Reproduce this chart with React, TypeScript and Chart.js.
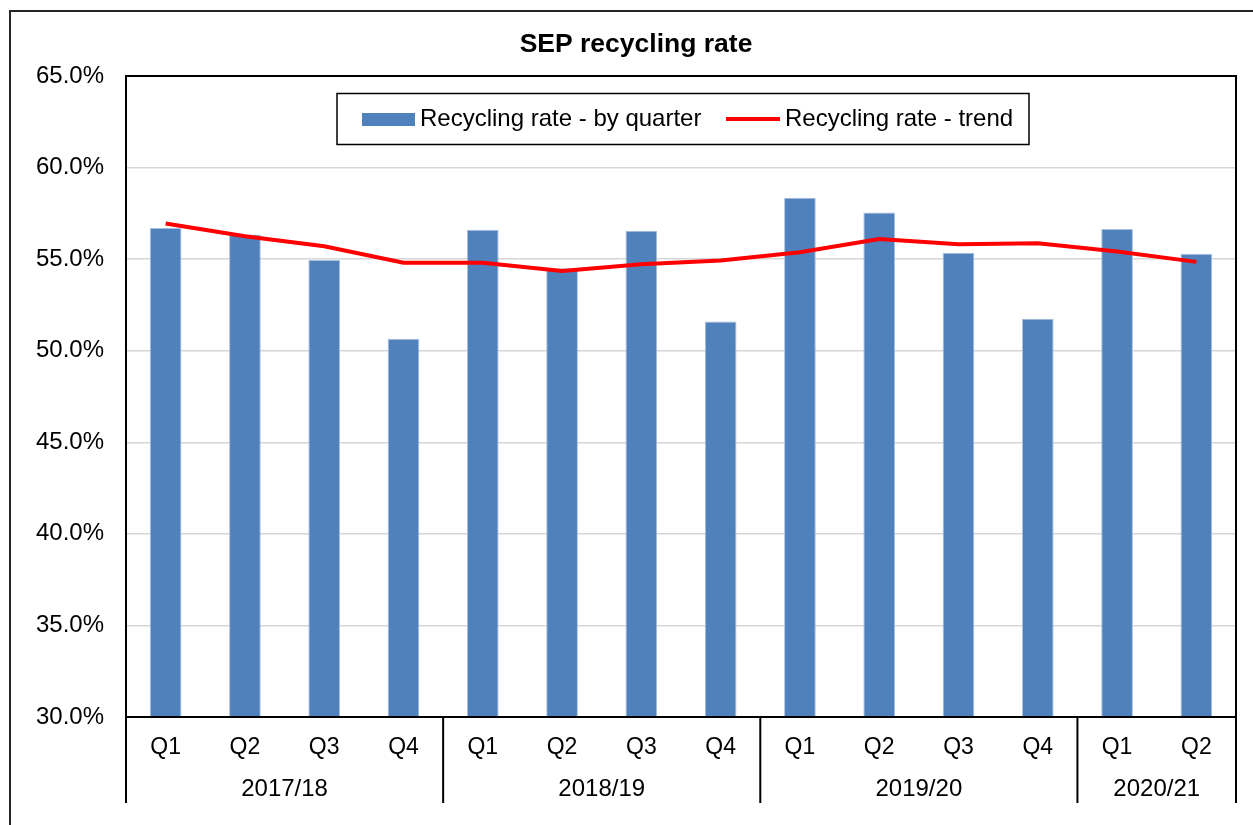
import React, { useEffect, useRef } from "react";
import { Chart, registerables } from "chart.js";

Chart.register(...registerables);

const quarters = ["Q1", "Q2", "Q3", "Q4", "Q1", "Q2", "Q3", "Q4", "Q1", "Q2", "Q3", "Q4", "Q1", "Q2"];
const years = ["2017/18", "2018/19", "2019/20", "2020/21"];
const quartersPerYear = [4, 4, 4, 2];
const byQuarter = [56.7, 56.35, 54.95, 50.65, 56.6, 54.5, 56.55, 51.6, 58.35, 57.55, 55.35, 51.75, 56.65, 55.3];
const trend = [56.95, 56.25, 55.7, 54.8, 54.8, 54.35, 54.72, 54.92, 55.38, 56.1, 55.82, 55.87, 55.42, 54.85];
const yTicks = [30, 35, 40, 45, 50, 55, 60, 65];
const titleText = "SEP recycling rate";
const seriesNames = ["Recycling rate - by quarter", "Recycling rate - trend"];

const FONT = "Arial, 'Liberation Sans', sans-serif";

const overlay = {
  id: "overlay",
  afterDraw(chart: any) {
    const ctx = chart.ctx;
    const a = chart.chartArea;
    const x = chart.scales.x;
    ctx.save();
    // outer frame
    ctx.strokeStyle = "#262626";
    ctx.lineWidth = 2;
    ctx.beginPath();
    ctx.moveTo(10, 900);
    ctx.lineTo(10, 11);
    ctx.lineTo(1300, 11);
    ctx.stroke();
    // title
    ctx.fillStyle = "#000";
    ctx.font = `bold 26.5px ${FONT}`;
    ctx.textAlign = "center";
    ctx.textBaseline = "middle";
    ctx.fillText(titleText, 636, 45);
    // plot border
    ctx.strokeStyle = "#000";
    ctx.lineWidth = 2;
    ctx.strokeRect(a.left, a.top, a.right - a.left, a.bottom - a.top);
    // category separators and year labels
    const half = (x.getPixelForValue(1) - x.getPixelForValue(0)) / 2;
    let idx = 0;
    const bottomY = 803;
    ctx.beginPath();
    ctx.moveTo(a.left, a.bottom);
    ctx.lineTo(a.left, bottomY);
    ctx.stroke();
    ctx.font = `24px ${FONT}`;
    years.forEach((yr, i) => {
      const n = quartersPerYear[i];
      const start = x.getPixelForValue(idx) - half;
      const end = x.getPixelForValue(idx + n - 1) + half;
      ctx.beginPath();
      ctx.moveTo(end, a.bottom);
      ctx.lineTo(end, bottomY);
      ctx.stroke();
      ctx.fillText(yr, (start + end) / 2, 789);
      idx += n;
    });
    // legend
    const ds = chart.data.datasets;
    ctx.lineWidth = 1.5;
    ctx.strokeRect(337, 93.5, 692, 51);
    ctx.fillStyle = ds[0].backgroundColor;
    ctx.fillRect(362, 113, 53, 13);
    ctx.fillStyle = "#000";
    ctx.textAlign = "left";
    ctx.font = `24px ${FONT}`;
    ctx.fillText(ds[0].label, 420, 119.5);
    ctx.strokeStyle = ds[1].borderColor;
    ctx.lineWidth = 4;
    ctx.beginPath();
    ctx.moveTo(726, 119);
    ctx.lineTo(780, 119);
    ctx.stroke();
    ctx.fillText(ds[1].label, 785, 119.5);
    ctx.restore();
  },
};

export default function App() {
  const ref = useRef<HTMLCanvasElement>(null);
  useEffect(() => {
    document.body.style.margin = "0";
    const chart = new Chart(ref.current!, {
      type: "bar",
      data: {
        labels: quarters,
        datasets: [
          {
            type: "bar",
            label: seriesNames[0],
            data: byQuarter,
            backgroundColor: "#4f81bd",
            borderColor: "#a9c0de",
            borderWidth: 1,
            barPercentage: 0.4,
            categoryPercentage: 1,
            order: 1,
          },
          {
            type: "line",
            label: seriesNames[1],
            data: trend,
            borderColor: "#ff0000",
            backgroundColor: "#ff0000",
            borderWidth: 4,
            pointRadius: 0,
            tension: 0,
            order: 0,
          } as any,
        ],
      },
      options: {
        animation: false,
        responsive: false,
        devicePixelRatio: 1,
        layout: { padding: { top: 76, right: 17, bottom: 0, left: 0 } },
        plugins: { legend: { display: false }, title: { display: false }, tooltip: { enabled: false } },
        scales: {
          x: {
            grid: { display: false, drawTicks: false },
            border: { display: false },
            ticks: { color: "#000", font: { family: FONT, size: 23 }, padding: 17, maxRotation: 0, autoSkip: false },
            afterFit(s: any) { s.height = 108; },
          },
          y: {
            min: 30,
            max: 65,
            afterBuildTicks(s: any) { s.ticks = yTicks.map((v) => ({ value: v })); },
            grid: { color: "#d6d6d6", lineWidth: 1.5, drawTicks: false },
            border: { display: false },
            ticks: {
              color: "#000",
              font: { family: FONT, size: 24 },
              padding: 22,
              callback: (v: any) => Number(v).toFixed(1) + "%",
            },
            afterFit(s: any) { s.width = 126; },
          },
        },
      },
      plugins: [overlay],
    });
    return () => chart.destroy();
  }, []);
  return (
    <div style={{ width: 1253, height: 825, background: "#fff" }}>
      <canvas ref={ref} width={1253} height={825} />
    </div>
  );
}
